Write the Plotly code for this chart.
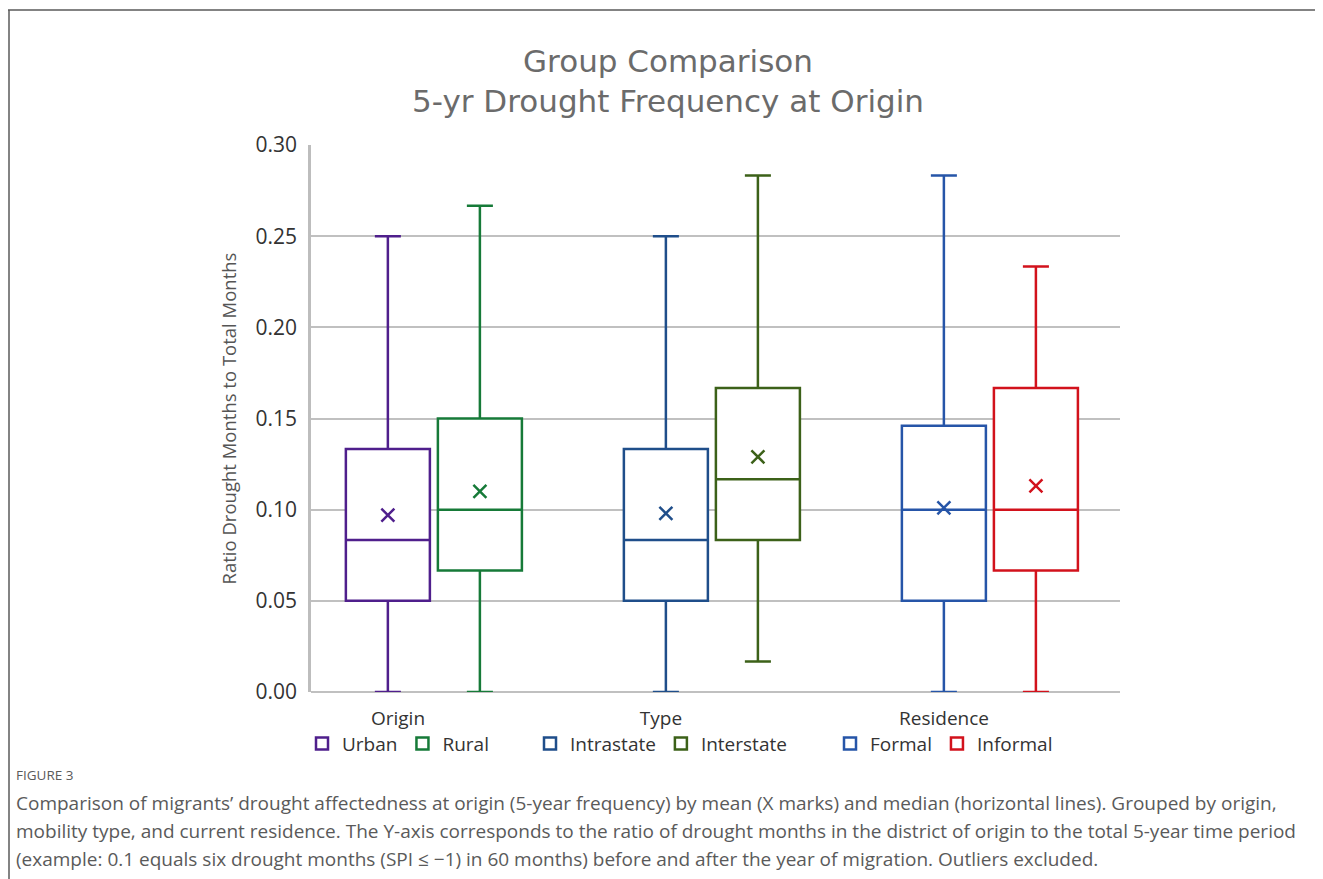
import plotly.graph_objects as go

# ---- data ----
groups = ["Origin", "Origin", "Type", "Type", "Residence", "Residence"]
labels = ["Urban", "Rural", "Intrastate", "Interstate", "Formal", "Informal"]
slots = ["a", "b", "a", "b", "a", "b"]
lower_whisker = [0.0, 0.0, 0.0, 0.0167, 0.0, 0.0]
q1_values = [0.05, 0.0667, 0.05, 0.0833, 0.05, 0.0667]
median_values = [0.0833, 0.10, 0.0833, 0.1167, 0.10, 0.10]
q3_values = [0.1333, 0.15, 0.1333, 0.1667, 0.146, 0.1667]
upper_whisker = [0.25, 0.2667, 0.25, 0.2833, 0.2833, 0.2333]
mean_values = [0.097, 0.110, 0.098, 0.129, 0.101, 0.113]
colors = ["#4F1F8C", "#167A38", "#1F4E8A", "#3C6119", "#2655A8", "#D2121C"]
legend_ids = ["legend", "legend", "legend2", "legend2", "legend3", "legend3"]
y_ticks = [0.0, 0.05, 0.10, 0.15, 0.20, 0.25, 0.30]

caption_head = "FIGURE 3"
caption_lines = [
    "Comparison of migrants\u2019 drought affectedness at origin (5-year frequency) by mean (X marks) and median (horizontal lines). Grouped by origin,",
    "mobility type, and current residence. The Y-axis corresponds to the ratio of drought months in the district of origin to the total 5-year time period",
    "(example: 0.1 equals six drought months (SPI \u2264 \u22121) in 60 months) before and after the year of migration. Outliers excluded.",
]

BOXGAP = 0.338

# page is rendered with an 8px body margin; size the figure so it fits the window
OFF = 8
PAGE_W, PAGE_H = 1323, 879
W, H = PAGE_W - OFF, PAGE_H - OFF
plot_l, plot_t = 311 - OFF, 145 - OFF
plot_r, plot_b = PAGE_W - 1120, PAGE_H - 692
pw, ph = W - plot_l - plot_r, H - plot_t - plot_b


def px_x(x):
    return (x - OFF - plot_l) / pw


def px_y(y):
    return (plot_t + ph - (y - OFF)) / ph


fig = go.Figure()
for i in range(len(labels)):
    fig.add_trace(go.Box(
        x=[groups[i]], q1=[q1_values[i]], median=[median_values[i]], q3=[q3_values[i]],
        lowerfence=[lower_whisker[i]], upperfence=[upper_whisker[i]],
        name=labels[i], offsetgroup=slots[i], legend=legend_ids[i],
        line=dict(color=colors[i], width=2.5), fillcolor="white",
        whiskerwidth=0.31, boxpoints=False, hoverinfo="skip",
    ))
for i in range(len(labels)):
    fig.add_trace(go.Scatter(
        x=[groups[i]], y=[mean_values[i]], mode="markers", offsetgroup=slots[i],
        marker=dict(symbol="x-thin", size=13, line=dict(color=colors[i], width=2.5)),
        showlegend=False, hoverinfo="skip",
    ))

legend_font = dict(family="Open Sans", size=19, color="#333333")


def legend_cfg(title, x):
    return dict(orientation="h", yanchor="top", xanchor="left", bgcolor="rgba(0,0,0,0)",
                font=legend_font, itemwidth=30, tracegroupgap=0,
                title=dict(text=title, side="top center", font=legend_font),
                x=px_x(x), y=px_y(700))


annotations = [dict(text=caption_head, x=px_x(14), y=px_y(775), xref="paper", yref="paper",
                    xanchor="left", yanchor="middle", showarrow=False,
                    font=dict(family="Open Sans", size=13.5, color="#5A5A5A"))]
for k, line in enumerate(caption_lines):
    annotations.append(dict(text=line, x=px_x(14), y=px_y(803 + 28 * k), xref="paper", yref="paper",
                            xanchor="left", yanchor="middle", showarrow=False,
                            font=dict(family="Open Sans", size=19, color="#5A5A5A")))

fig.update_layout(
    width=W, height=H,
    margin=dict(l=plot_l, r=plot_r, t=plot_t, b=plot_b),
    paper_bgcolor="white", plot_bgcolor="white",
    boxmode="group", boxgap=BOXGAP, boxgroupgap=0.087,
    scattermode="group", scattergap=BOXGAP,
    title=dict(text="Group Comparison<br>5-yr Drought Frequency at Origin",
               x=(668 - OFF) / W, xref="container", xanchor="center",
               y=1 - 64 / H, yref="container", yanchor="middle",
               font=dict(family="DejaVu Sans", size=31, color="#6B6B6B")),
    xaxis=dict(showticklabels=False, showgrid=False, zeroline=False, showline=False,
               range=[-0.442, 2.468], ticks=""),
    yaxis=dict(range=[0, 0.30], tickvals=y_ticks, tickformat=".2f",
               showgrid=True, gridcolor="#C0C0C0", gridwidth=1.5,
               zeroline=True, zerolinecolor="#C0C0C0", zerolinewidth=1.5,
               showline=True, linecolor="#BDBDBD", linewidth=2.5,
               ticklabelstandoff=7,
               tickfont=dict(family="Open Sans", size=21, color="#333333"),
               title=dict(text="Ratio Drought Months to Total Months", standoff=15,
                          font=dict(family="Open Sans", size=18.5, color="#555555"))),
    legend=legend_cfg("Origin", 302),
    legend2=legend_cfg("Type", 530),
    legend3=legend_cfg("Residence", 830),
    annotations=annotations,
    shapes=[
        dict(type="line", xref="paper", yref="paper", x0=px_x(0), x1=px_x(PAGE_W + 20),
             y0=px_y(10), y1=px_y(10), line=dict(color="#5A5A5A", width=1.5)),
        dict(type="line", xref="paper", yref="paper", x0=px_x(9), x1=px_x(9),
             y0=px_y(10), y1=px_y(PAGE_H + 20), line=dict(color="#5A5A5A", width=1.5)),
    ],
)

fig.write_html("out.html")
